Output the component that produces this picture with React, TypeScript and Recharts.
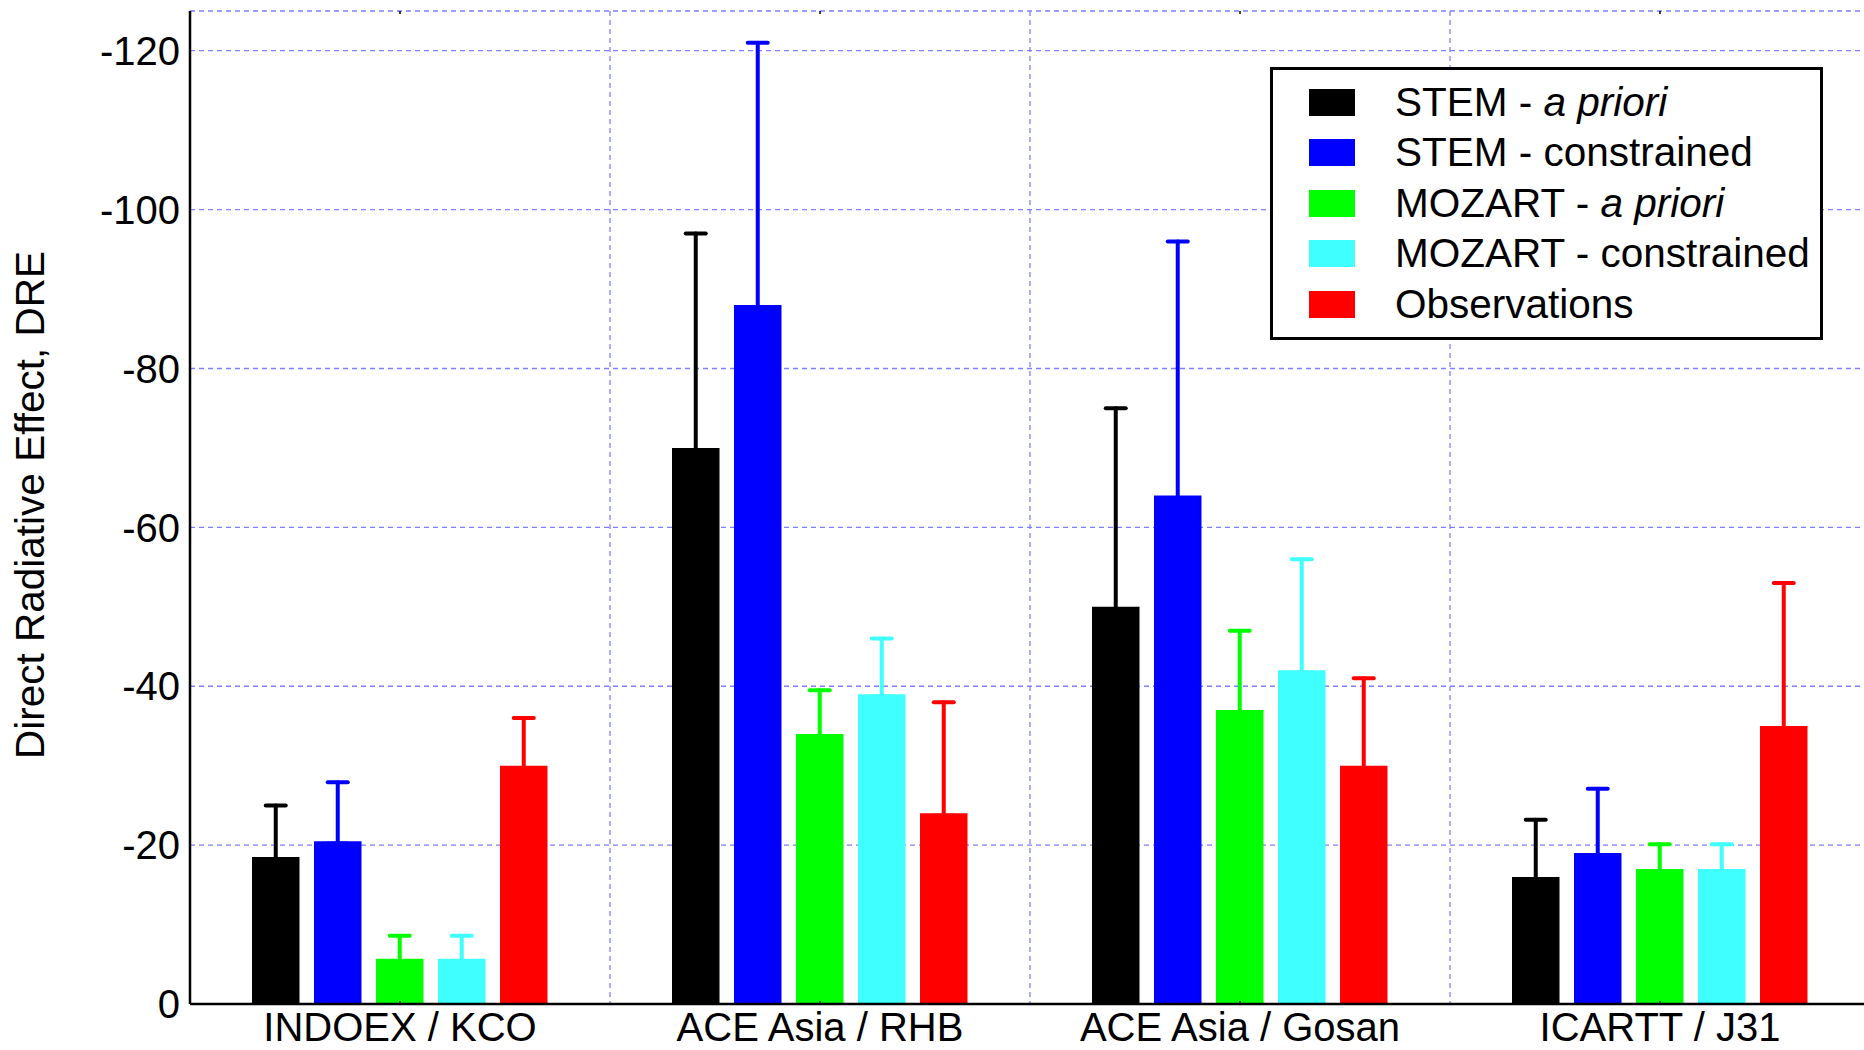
import React from 'react';
import { BarChart, Bar, XAxis, YAxis, CartesianGrid, ErrorBar, Legend } from 'recharts';

const sites = ['INDOEX / KCO', 'ACE Asia / RHB', 'ACE Asia / Gosan', 'ICARTT / J31'];

// bar values and the tip of each (one-sided) error bar
const stemPrior = [-18.5, -70, -50, -16];
const stemPriorTop = [-25, -97, -75, -23.2];
const stemCon = [-20.5, -88, -64, -19];
const stemConTop = [-27.9, -121, -96, -27.1];
const mozPrior = [-5.7, -34, -37, -17];
const mozPriorTop = [-8.6, -39.5, -47, -20.1];
const mozCon = [-5.7, -39, -42, -17];
const mozConTop = [-8.6, -46, -56, -20.1];
const obs = [-30, -24, -30, -35];
const obsTop = [-36, -38, -41, -53];

const yTicks = [0, -20, -40, -60, -80, -100, -120];
const yFrameTicks = [0, -5, -10, -15, -20, -25, -30, -35, -40, -45, -50, -55, -60, -65, -70, -75, -80, -85, -90, -95, -100, -105, -110, -115, -120];
const siteEdges = [0, 1, 2, 3, 4];

const FONT = '"Liberation Sans", Arial, Helvetica, sans-serif';
const PL = 190;
const PR = 1870;
const PT = 11;
const PB = 1004;

const series = [
  { key: 'stemPrior', vals: stemPrior, tops: stemPriorTop, color: '#000000', name: 'STEM - ', ital: 'a priori' },
  { key: 'stemCon', vals: stemCon, tops: stemConTop, color: '#0000ff', name: 'STEM - constrained', ital: '' },
  { key: 'mozPrior', vals: mozPrior, tops: mozPriorTop, color: '#00ff00', name: 'MOZART - ', ital: 'a priori' },
  { key: 'mozCon', vals: mozCon, tops: mozConTop, color: '#40ffff', name: 'MOZART - constrained', ital: '' },
  { key: 'obs', vals: obs, tops: obsTop, color: '#ff0000', name: 'Observations', ital: '' },
];

// error bar goes from the bar top out to the tip; the lower end sits just inside the bar
const data = sites.map((site, i) => {
  const row: any = { site };
  series.forEach((s) => {
    row[s.key] = s.vals[i];
    row[s.key + 'Err'] = [s.vals[i] - s.tops[i], 0.3];
  });
  return row;
});

const YLabelTick = ({ y, payload }: any) => (
  <text x={180} y={y} dy="0.355em" textAnchor="end" fontSize={40} fontFamily={FONT} fill="#000">
    {payload.value}
  </text>
);

const FrameYTick = ({ y, payload }: any) => {
  const len = payload.value % 20 === 0 ? 14 : 6;
  return (
    <g stroke="#000" strokeWidth={2}>
      <line x1={PL} x2={PL + len} y1={y} y2={y} />
      <line x1={PR - len} x2={PR} y1={y} y2={y} />
    </g>
  );
};

const FrameXTick = ({ x }: any) => (
  <g stroke="#000" strokeWidth={2}>
    <line x1={x} x2={x} y1={PT} y2={PT + 5} />
    <line x1={x} x2={x} y1={PB - 5} y2={PB} />
  </g>
);

const SiteTick = ({ x, payload }: any) => (
  <g>
    <line x1={x} x2={x} y1={PT} y2={PT + 3} stroke="#000" strokeWidth={1.5} />
    <line x1={x} x2={x} y1={PB - 3} y2={PB} stroke="#000" strokeWidth={1.5} />
    <text x={x} y={PB + 37} textAnchor="middle" fontSize={40} fontFamily={FONT} fill="#000">
      {payload.value}
    </text>
  </g>
);

const LegendBox = () => (
  <div
    style={{
      width: 553,
      height: 273,
      boxSizing: 'border-box',
      border: '3px solid #000',
      background: '#fff',
      paddingTop: 7,
      fontFamily: FONT,
      fontSize: 40.5,
      color: '#000',
    }}
  >
    {series.map((s) => (
      <div key={s.key} style={{ height: 50.5, display: 'flex', alignItems: 'center' }}>
        <div style={{ width: 46, height: 27, background: s.color, marginLeft: 36, marginRight: 40, flexShrink: 0 }} />
        <span style={{ whiteSpace: 'nowrap' }}>
          {s.name}
          {s.ital && <i>{s.ital}</i>}
        </span>
      </div>
    ))}
  </div>
);

const edgeLines = ({ offset }: any) => siteEdges.map((k) => offset.left + (k * offset.width) / sites.length);

export default function App() {
  return (
    <div style={{ position: 'absolute', left: 0, top: 0, width: 1864, height: 1050, overflow: 'hidden', background: '#fff' }}>
      <BarChart
        width={1880}
        height={1050}
        data={data}
        margin={{ top: PT, right: 0, bottom: 0, left: 0 }}
        barSize={47.5}
        barGap={14.5}
      >
        <CartesianGrid
          yAxisId="l"
          stroke="#7f7fff"
          strokeDasharray="5 4"
          strokeWidth={1.3}
          verticalCoordinatesGenerator={edgeLines}
        />
        <XAxis
          xAxisId="cat"
          dataKey="site"
          height={46}
          interval={0}
          tickLine={false}
          axisLine={{ stroke: '#000', strokeWidth: 2.5 }}
          tick={<SiteTick />}
        />
        <XAxis
          xAxisId="edge"
          type="number"
          orientation="top"
          domain={[0, 4]}
          allowDataOverflow
          ticks={siteEdges}
          interval={0}
          height={0}
          tickLine={false}
          axisLine={{ stroke: '#000', strokeWidth: 2.5 }}
          tick={<FrameXTick />}
        />
        <YAxis
          yAxisId="l"
          width={PL}
          domain={[-125, 0]}
          reversed
          ticks={yTicks}
          interval={0}
          tickLine={false}
          axisLine={{ stroke: '#000', strokeWidth: 2.5 }}
          tick={<YLabelTick />}
          label={{
            content: () => (
              <text
                x={30}
                y={505}
                transform="rotate(-90 30 505)"
                textAnchor="middle"
                dominantBaseline="central"
                fontSize={40.5}
                fontFamily={FONT}
                fill="#000"
              >
                Direct Radiative Effect, DRE
              </text>
            ),
          }}
        />
        <YAxis
          yAxisId="r"
          orientation="right"
          width={10}
          domain={[-125, 0]}
          reversed
          ticks={yFrameTicks}
          interval={0}
          tickLine={false}
          axisLine={{ stroke: '#000', strokeWidth: 2.5 }}
          tick={<FrameYTick />}
        />
        {series.map((s) => (
          <Bar key={s.key} dataKey={s.key} xAxisId="cat" yAxisId="l" fill={s.color} isAnimationActive={false}>
            <ErrorBar
              dataKey={s.key + 'Err'}
              direction="y"
              width={10}
              stroke={s.color}
              strokeWidth={4}
              strokeLinecap="round"
              isAnimationActive={false}
            />
          </Bar>
        ))}
        <Legend
          layout="vertical"
          align="center"
          verticalAlign="middle"
          content={<LegendBox />}
          wrapperStyle={{ left: 1270, top: 67, width: 553, height: 273 }}
        />
      </BarChart>
    </div>
  );
}
